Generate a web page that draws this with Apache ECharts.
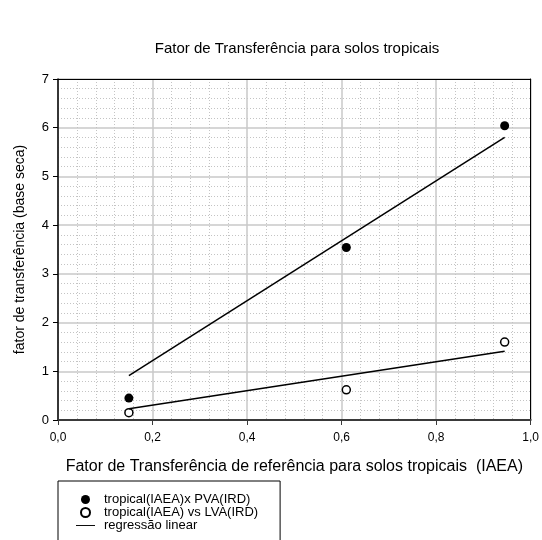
<!DOCTYPE html>
<html>
<head>
<meta charset="utf-8">
<script src="https://cdn.jsdelivr.net/npm/echarts@6/dist/echarts.min.js"></script>
<style>
  html, body { margin: 0; padding: 0; background: #fff; }
  #chart { width: 542px; height: 540px; }
</style>
</head>
<body>
<div id="chart"></div>
<script>
// data
const pvaPoints = [[0.15, 0.45], [0.61, 3.54], [0.945, 6.04]];
const lvaPoints = [[0.15, 0.15], [0.61, 0.62], [0.945, 1.60]];
const pvaFit = [[0.15, 0.91], [0.945, 5.80]];
const lvaFit = [[0.15, 0.23], [0.945, 1.41]];

const names = ['tropical(IAEA)x PVA(IRD)', 'tropical(IAEA) vs LVA(IRD)', 'regressão linear'];
const font = 'Liberation Sans, Arial, sans-serif';

const comma = v => v.toFixed(1).replace('.', ',');

const chart = echarts.init(document.getElementById('chart'));

const gridLines = {
  splitLine: { show: true, lineStyle: { color: '#c8c8c8', width: 1.5 } },
  minorTick: { show: false, splitNumber: 5 },
  minorSplitLine: { show: true, lineStyle: { color: '#c4c4c4', width: 1, type: [1, 2] } }
};

chart.setOption({
  animation: false,
  textStyle: { fontFamily: font },
  title: {
    text: 'Fator de Transferência para solos tropicais',
    left: 292,
    top: 36,
    textAlign: 'center',
    textStyle: { fontSize: 15, fontWeight: 'normal', color: '#000', fontFamily: font }
  },
  grid: { left: 58, right: 11, top: 79, bottom: 120 },
  legend: {
    orient: 'vertical',
    left: 58,
    top: 481,
    height: 80,
    padding: [12, 22, 30, 18],
    borderColor: '#000',
    borderWidth: 1,
    itemWidth: 19,
    itemHeight: 9,
    itemGap: 0,
    textStyle: { fontSize: 13, lineHeight: 12, color: '#000', fontFamily: font, padding: [0, 0, 0, 4] },
    data: [
      { name: names[0] },
      { name: names[1] },
      { name: names[2], icon: 'path://M0,0 H20 V1 H0 Z' }
    ]
  },
  xAxis: [{
    type: 'value',
    min: 0, max: 1, interval: 0.2,
    name: 'Fator de Transferência de referência para solos tropicais  (IAEA)',
    nameLocation: 'middle',
    nameGap: 39,
    nameTextStyle: { fontSize: 16, color: '#000' },
    axisLine: { show: true, onZero: false, lineStyle: { color: '#3a3a3a', width: 2 } },
    axisTick: { show: true, length: 5, lineStyle: { color: '#3a3a3a' } },
    axisLabel: { fontSize: 12, color: '#000', margin: 12, formatter: comma },
    ...gridLines
  }, {
    type: 'value', position: 'top', min: 0, max: 1,
    axisLine: { show: true, onZero: false, lineStyle: { color: '#000', width: 1 } },
    axisTick: { show: false }, axisLabel: { show: false }, splitLine: { show: false }
  }],
  yAxis: [{
    type: 'value',
    min: 0, max: 7, interval: 1,
    name: 'fator de transferência (base seca)',
    nameLocation: 'middle',
    nameGap: 31,
    nameTextStyle: { fontSize: 14, color: '#000' },
    axisLine: { show: true, onZero: false, lineStyle: { color: '#000', width: 1.5 } },
    axisTick: { show: true, length: 5, lineStyle: { color: '#000' } },
    axisLabel: { fontSize: 13, color: '#000', margin: 9 },
    ...gridLines
  }, {
    type: 'value', position: 'right', min: 0, max: 7,
    axisLine: { show: true, onZero: false, lineStyle: { color: '#000', width: 1 } },
    axisTick: { show: false }, axisLabel: { show: false }, splitLine: { show: false }
  }],
  series: [
    {
      name: names[2], type: 'line', data: pvaFit, symbol: 'none',
      lineStyle: { color: '#000', width: 1.5 }, itemStyle: { color: '#000' }
    },
    {
      name: names[2], type: 'line', data: lvaFit, symbol: 'none',
      lineStyle: { color: '#000', width: 1.5 }, itemStyle: { color: '#000' }
    },
    {
      name: names[0], type: 'scatter', data: pvaPoints, symbol: 'circle', symbolSize: 9,
      itemStyle: { color: '#000', opacity: 1 }
    },
    {
      name: names[1], type: 'scatter', data: lvaPoints, symbol: 'circle', symbolSize: 8,
      itemStyle: { color: '#fff', borderColor: '#000', borderWidth: 1.5, opacity: 1 }
    }
  ]
});
</script>
</body>
</html>
